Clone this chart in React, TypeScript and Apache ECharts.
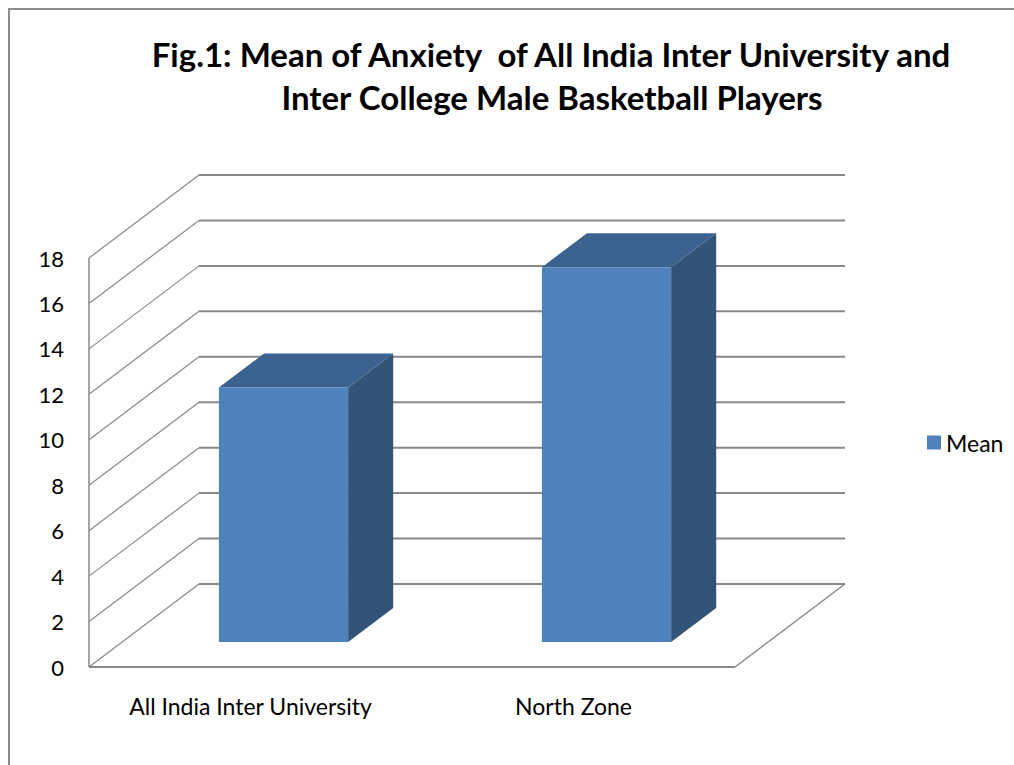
import React, { useEffect, useRef } from "react";
import * as echarts from "echarts";

const categories = ["All India Inter University", "North Zone"];
const meanValues = [11.2, 16.5];
const yTicks = [0, 2, 4, 6, 8, 10, 12, 14, 16, 18];
const titleLines = [
  "Fig.1: Mean of Anxiety  of All India Inter University and",
  "Inter College Male Basketball Players",
];
const seriesName = "Mean";

const DX = 110;
const DY = -83;
const FONT = "Lato, 'Open Sans', sans-serif";
const GRID_COLOR = "#898989";

export default function App() {
  const ref = useRef<HTMLDivElement>(null);
  useEffect(() => {
    if (!ref.current) return;
    const chart = echarts.init(ref.current, undefined, { renderer: "svg" });
    const option: any = {
      animation: false,
      backgroundColor: "#ffffff",
      textStyle: { fontFamily: FONT },
      graphic: [
        {
          type: "rect",
          shape: { x: 9, y: 9, width: 1100, height: 900 },
          style: { fill: "none", stroke: "#8c8c8c", lineWidth: 2 },
          z: 0,
        },
        {
          type: "text",
          x: 551,
          y: 54,
          style: {
            text: titleLines[0],
            fontFamily: FONT,
            fontWeight: "bold",
            fontSize: 33,
            fill: "#000",
            align: "center",
            verticalAlign: "middle",
          },
        },
        {
          type: "text",
          x: 552,
          y: 97,
          style: {
            text: titleLines[1],
            fontFamily: FONT,
            fontWeight: "bold",
            fontSize: 33,
            fill: "#000",
            align: "center",
            verticalAlign: "middle",
          },
        },
      ],
      legend: {
        data: [seriesName],
        left: 922,
        top: 426,
        icon: "rect",
        itemWidth: 14,
        itemHeight: 14,
        textStyle: { fontSize: 23, color: "#000", fontFamily: FONT },
      },
      grid: { left: 89, top: 258, width: 646, height: 409 },
      xAxis: {
        type: "category",
        data: categories,
        axisLine: { show: false },
        axisTick: { show: false },
        axisLabel: { fontSize: 23, color: "#000", margin: 27, fontFamily: FONT },
      },
      yAxis: {
        type: "value",
        min: 0,
        max: 18,
        interval: 2,
        axisLine: { show: false },
        axisTick: { show: false },
        splitLine: { show: false },
        axisLabel: { fontSize: 22, color: "#000", margin: 25, fontFamily: FONT },
      },
      series: [
        {
          type: "custom",
          name: "walls",
          silent: true,
          z: 1,
          data: yTicks.map((v) => [0, v]),
          renderItem: (params: any, api: any) => {
            const cs = params.coordSys;
            const x0 = cs.x;
            const w = cs.width;
            const y = api.coord([0, api.value(1)])[1];
            const children: any[] = [
              {
                type: "line",
                shape: { x1: x0, y1: y, x2: x0 + DX, y2: y + DY },
                style: { stroke: GRID_COLOR, lineWidth: 1.2 },
              },
              {
                type: "line",
                shape: { x1: x0 + DX, y1: y + DY, x2: x0 + DX + w, y2: y + DY },
                style: { stroke: GRID_COLOR, lineWidth: 2 },
              },
            ];
            if (params.dataIndex === 0) {
              const yTop = api.coord([0, yTicks[yTicks.length - 1]])[1];
              children.push(
                {
                  type: "line",
                  shape: { x1: x0, y1: y, x2: x0 + w, y2: y },
                  style: { stroke: GRID_COLOR, lineWidth: 2 },
                },
                {
                  type: "line",
                  shape: { x1: x0 + w, y1: y, x2: x0 + w + DX, y2: y + DY },
                  style: { stroke: GRID_COLOR, lineWidth: 1.5 },
                },
                {
                  type: "line",
                  shape: { x1: x0, y1: y, x2: x0, y2: yTop },
                  style: { stroke: GRID_COLOR, lineWidth: 1.5 },
                }
              );
            }
            return { type: "group", children };
          },
        },
        {
          type: "custom",
          name: seriesName,
          z: 5,
          itemStyle: { color: "#4F81BD" },
          data: meanValues.map((v, i) => [i, v]),
          renderItem: (params: any, api: any) => {
            const cat = api.value(0);
            const val = api.value(1);
            const top = api.coord([cat, val]);
            const base = api.coord([cat, 0]);
            const bw = api.size([1, 0])[0] * 0.4;
            const f0 = 0.3;
            const f1 = 0.71;
            const ox = DX * f0;
            const oy = DY * f0;
            const ddx = DX * (f1 - f0);
            const ddy = DY * (f1 - f0);
            const xl = top[0] - bw / 2 + ox;
            const xr = xl + bw;
            const yt = top[1] + oy;
            const yb = base[1] + oy;
            return {
              type: "group",
              children: [
                {
                  type: "polygon",
                  shape: {
                    points: [
                      [xr, yt],
                      [xr + ddx, yt + ddy],
                      [xr + ddx, yb + ddy],
                      [xr, yb],
                    ],
                  },
                  style: { fill: "#335479" },
                },
                {
                  type: "polygon",
                  shape: {
                    points: [
                      [xl, yt],
                      [xr, yt],
                      [xr + ddx, yt + ddy],
                      [xl + ddx, yt + ddy],
                    ],
                  },
                  style: { fill: "#3c6390" },
                },
                {
                  type: "rect",
                  shape: { x: xl, y: yt, width: bw, height: yb - yt },
                  style: { fill: "#4F81BD" },
                },
              ],
            };
          },
        },
      ],
    };
    chart.setOption(option);
    return () => chart.dispose();
  }, []);
  return (
    <div
      ref={ref}
      style={{ position: "absolute", left: 0, top: 0, width: 1014, height: 765 }}
    />
  );
}
